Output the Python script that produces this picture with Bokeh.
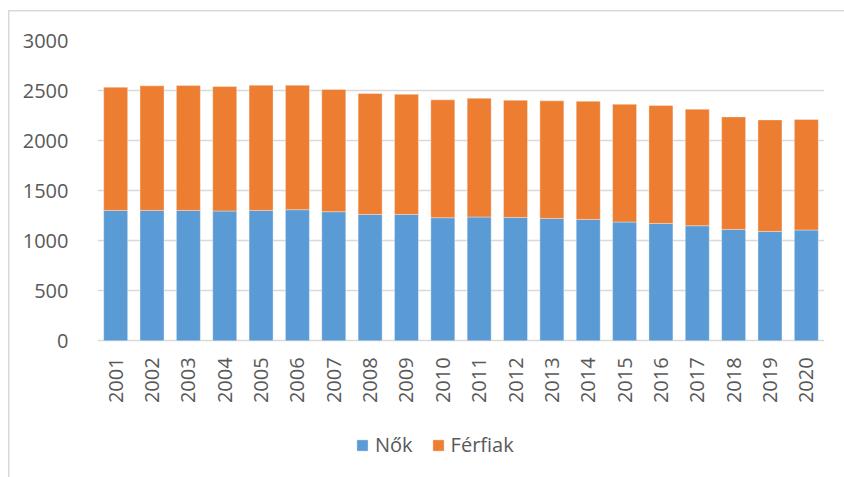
from bokeh.plotting import figure
from bokeh.models import ColumnDataSource, Range1d, FactorRange, Legend, LegendItem
from bokeh.embed import file_html
from bokeh.resources import INLINE
import math

years = ["2001", "2002", "2003", "2004", "2005", "2006", "2007", "2008", "2009", "2010",
         "2011", "2012", "2013", "2014", "2015", "2016", "2017", "2018", "2019", "2020"]
nok = [1303, 1303, 1303, 1297, 1303, 1310, 1290, 1263, 1263, 1230,
       1237, 1233, 1223, 1213, 1187, 1173, 1150, 1113, 1093, 1107]
ferfiak = [1230, 1244, 1247, 1243, 1250, 1243, 1220, 1207, 1200, 1177,
           1186, 1170, 1174, 1180, 1176, 1177, 1163, 1124, 1114, 1103]
y_ticks = [0, 500, 1000, 1500, 2000, 2500, 3000]
series_names = ["Nők", "Férfiak"]
colors = ["#5B9BD5", "#ED7D31"]

source = ColumnDataSource(data=dict(years=years, nok=nok, ferfiak=ferfiak))

FONT = "Open Sans"
GRAY = "#595959"

# the frame reaches down to the bottom of the canvas, so that the year labels and
# the legend can sit below the value axis' zero line inside the frame
p = figure(x_range=FactorRange(factors=years, range_padding=0),
           y_range=Range1d(-1365, 3000),
           width=844, height=477,
           output_backend="svg", toolbar_location=None,
           min_border_left=97, min_border_right=20,
           min_border_top=40, min_border_bottom=0)
p.styles = {
    "background": "linear-gradient(#d9d9d9, #d9d9d9) 8px 10px / 1.5px 467px no-repeat, "
                  "linear-gradient(#d9d9d9, #d9d9d9) 8px 10px / 836px 1.5px no-repeat, white"
}

renderers = p.vbar_stack(["nok", "ferfiak"], x="years", width=0.66, source=source,
                         color=colors, line_color="white", line_alpha=0.35, line_width=1)

# category labels under the zero line, rotated like the reference
p.text(x="years", y=-165, text="years", source=source, angle=math.pi / 2,
       text_align="right", text_baseline="middle",
       text_font={"value": FONT}, text_font_size="20px", text_color=GRAY)

p.outline_line_color = None
p.background_fill_color = None
p.border_fill_color = None

p.xaxis.visible = False
p.xgrid.grid_line_color = None
p.ygrid.grid_line_color = "#d9d9d9"
p.ygrid.grid_line_width = 1.3
p.yaxis.ticker = y_ticks

p.yaxis.axis_line_color = None
p.yaxis.major_tick_line_color = None
p.yaxis.minor_tick_line_color = None
p.yaxis.major_label_standoff = 23
p.yaxis.major_label_text_font = FONT
p.yaxis.major_label_text_font_size = "20px"
p.yaxis.major_label_text_color = GRAY

legend = Legend(items=[LegendItem(label=series_names[0], renderers=[renderers[0]]),
                       LegendItem(label=series_names[1], renderers=[renderers[1]])],
                orientation="horizontal", location=(258, 19),
                padding=0, margin=0, spacing=18, label_standoff=6,
                glyph_width=14, glyph_height=14, label_height=20,
                label_text_font=FONT, label_text_font_size="20px",
                label_text_color=GRAY, border_line_color=None,
                background_fill_alpha=0)
p.add_layout(legend, "center")

open("out.html", "w").write(file_html(p, INLINE))
